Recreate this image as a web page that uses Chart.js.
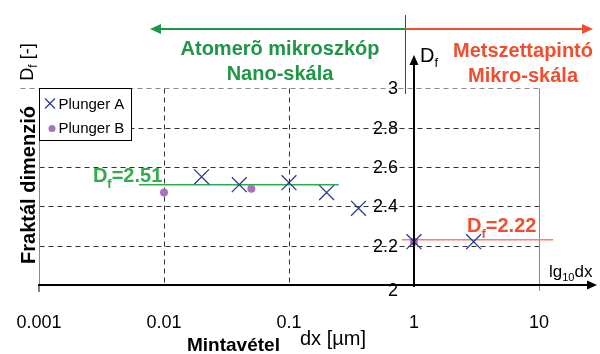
<!DOCTYPE html>
<html>
<head>
<meta charset="utf-8">
<script src="https://cdn.jsdelivr.net/npm/chart.js@4.4.1/dist/chart.umd.min.js"></script>
<style>
  html, body { margin: 0; padding: 0; background: #fff; }
  #wrap { width: 600px; height: 354px; position: relative; }
</style>
</head>
<body>
<div id="wrap"><canvas id="chart"></canvas></div>
<script>
const seriesNames = ["Plunger A", "Plunger B"];
const plungerA_dx = [0.02, 0.04, 0.1, 0.2, 0.36, 1, 3];
const plungerA_df = [2.55, 2.51, 2.52, 2.47, 2.39, 2.22, 2.22];
const plungerB_dx = [0.01, 0.05, 1];
const plungerB_df = [2.47, 2.49, 2.22];
const nanoFit_dx = [0.0063, 0.25];
const nanoFit_df = [2.51, 2.51];
const microFit_dx = [0.8, 13];
const microFit_df = [2.23, 2.23];
const xTicks = [0.001, 0.01, 0.1, 1, 10];
const xTickLabels = ["0.001", "0.01", "0.1", "1", "10"];
const yTicks = [2, 2.2, 2.4, 2.6, 2.8, 3];
const yTickLabels = ["2", "2.2", "2.4", "2.6", "2.8", "3"];

const FONT = '"Liberation Sans", Arial, sans-serif';
const GREEN = "#1E9646", LGREEN = "#30AD4B", RED = "#F04E2E", LRED = "#F3836F";
const NAVY = "#2B3990", PURPLE = "#A774BA";

const pts = (xs, ys) => xs.map((v, i) => ({ x: v, y: ys[i] }));

function drawParts(ctx, parts, x, y, align) {
  let w = 0;
  parts.forEach(p => { ctx.font = p.f; w += ctx.measureText(p.t).width; });
  let cx = align === "center" ? x - w / 2 : align === "right" ? x - w : x;
  ctx.textAlign = "left";
  parts.forEach(p => {
    ctx.font = p.f;
    ctx.fillText(p.t, cx, y + (p.dy || 0));
    cx += ctx.measureText(p.t).width;
  });
}

function arrow(ctx, x1, y1, x2, y2, color, lw, len, half) {
  const a = Math.atan2(y2 - y1, x2 - x1);
  ctx.strokeStyle = color; ctx.fillStyle = color; ctx.lineWidth = lw;
  ctx.beginPath();
  ctx.moveTo(x1, y1);
  ctx.lineTo(x2 - Math.cos(a) * len * 0.8, y2 - Math.sin(a) * len * 0.8);
  ctx.stroke();
  ctx.beginPath();
  ctx.moveTo(x2, y2);
  ctx.lineTo(x2 - Math.cos(a) * len - Math.sin(a) * half, y2 - Math.sin(a) * len + Math.cos(a) * half);
  ctx.lineTo(x2 - Math.cos(a) * len + Math.sin(a) * half, y2 - Math.sin(a) * len - Math.cos(a) * half);
  ctx.closePath();
  ctx.fill();
}

const deco = {
  id: "deco",
  beforeDatasetsDraw(chart) {
    const { ctx, scales: { x, y } } = chart;
    const L = Math.round(x.getPixelForValue(xTicks[0])) + 0.5;
    const R = Math.round(x.getPixelForValue(10)) + 0.5;
    const T = Math.round(y.getPixelForValue(3)) + 0.5;
    const B = y.getPixelForValue(2);
    ctx.save();
    ctx.lineWidth = 1;
    ctx.setLineDash([5, 4]);
    yTicks.forEach(v => {
      if (v === 2) return;
      const py = Math.round(y.getPixelForValue(v)) + 0.5;
      ctx.strokeStyle = v === 3 ? "#8a8a8a" : "#333";
      ctx.beginPath();
      ctx.moveTo(v === 3 ? L - 19 : L, py);
      ctx.lineTo(R, py);
      ctx.stroke();
    });
    xTicks.filter(v => v > 0.001 && v < 1).forEach(v => {
      const px = Math.round(x.getPixelForValue(v)) + 0.5;
      ctx.strokeStyle = "#333";
      ctx.beginPath();
      ctx.moveTo(px, T);
      ctx.lineTo(px, B);
      ctx.stroke();
    });
    ctx.setLineDash([]);
    ctx.strokeStyle = "#8a8a8a";
    ctx.beginPath();
    ctx.moveTo(L, T); ctx.lineTo(L, B);
    ctx.moveTo(R, T); ctx.lineTo(R, B + 6);
    ctx.stroke();
    ctx.restore();
  },
  afterDatasetsDraw(chart) {
    const { ctx, scales: { x, y } } = chart;
    const L = x.getPixelForValue(xTicks[0]);
    const T = y.getPixelForValue(3);
    const B = y.getPixelForValue(2);
    const ax = x.getPixelForValue(1);
    ctx.save();
    ctx.setLineDash([]);

    // axes
    arrow(ctx, L - 1, B, 597, B, "#000", 2, 10, 4.5);
    arrow(ctx, ax, B + 2, ax, 55, "#000", 2, 10, 4.5);
    ctx.strokeStyle = "#000"; ctx.lineWidth = 1;
    ctx.beginPath(); ctx.moveTo(L, B); ctx.lineTo(L, B + 7); ctx.stroke();

    // scale arrows on top
    ctx.strokeStyle = "#444"; ctx.lineWidth = 1;
    ctx.beginPath(); ctx.moveTo(ax - 8.5, 15); ctx.lineTo(ax - 8.5, 94); ctx.stroke();
    arrow(ctx, ax - 9, 29, 150, 29, GREEN, 2, 11, 5);
    arrow(ctx, ax - 9, 29, 593, 29, RED, 2, 11, 5);

    ctx.textBaseline = "alphabetic";
    ctx.fillStyle = GREEN;
    ctx.font = "bold 20px " + FONT;
    ctx.textAlign = "center";
    ctx.fillText("Atomerõ mikroszkóp", 280, 55);
    ctx.fillText("Nano-skála", 280, 80);
    ctx.fillStyle = RED;
    ctx.fillText("Metszettapintó", 523, 57);
    ctx.fillText("Mikro-skála", 523, 82);

    // y tick labels
    ctx.fillStyle = "#000";
    ctx.font = "18px " + FONT;
    ctx.textAlign = "right";
    ctx.textBaseline = "middle";
    yTicks.forEach((v, i) => {
      ctx.fillText(yTickLabels[i], ax - 16, y.getPixelForValue(v) + (v === 2 ? 6 : 1));
    });
    // x tick labels
    ctx.textAlign = "center";
    ctx.textBaseline = "alphabetic";
    xTicks.forEach((v, i) => ctx.fillText(xTickLabels[i], x.getPixelForValue(v), 328));

    // axis labels
    drawParts(ctx, [{ t: "D", f: "20px " + FONT }, { t: "f", f: "13px " + FONT, dy: 5 }], ax + 6, 62, "left");
    drawParts(ctx, [{ t: "lg", f: "17px " + FONT }, { t: "10", f: "11px " + FONT, dy: 4 }, { t: "dx", f: "17px " + FONT }], 549, 277, "left");
    ctx.font = "bold 19px " + FONT;
    ctx.textAlign = "left";
    ctx.fillText("Mintavétel", 187, 351);
    ctx.font = "20px " + FONT;
    ctx.fillText("dx [µm]", 300, 345);

    ctx.save();
    ctx.translate(35, 185);
    ctx.rotate(-Math.PI / 2);
    ctx.font = "bold 20px " + FONT;
    ctx.textAlign = "center";
    ctx.fillText("Fraktál dimenzió", 0, 0);
    ctx.restore();
    ctx.save();
    ctx.translate(33, 62);
    ctx.rotate(-Math.PI / 2);
    drawParts(ctx, [{ t: "D", f: "18px " + FONT }, { t: "f", f: "12px " + FONT, dy: 4 }, { t: " [-]", f: "18px " + FONT }], 0, 0, "center");
    ctx.restore();

    // fit labels
    ctx.fillStyle = LGREEN;
    drawParts(ctx, [{ t: "D", f: "bold 20px " + FONT }, { t: "f", f: "bold 13px " + FONT, dy: 6 }, { t: "=2.51", f: "bold 20px " + FONT }],
      x.getPixelForValue(nanoFit_dx[0]) - 46, y.getPixelForValue(nanoFit_df[0]) - 3, "left");
    ctx.fillStyle = RED;
    drawParts(ctx, [{ t: "D", f: "bold 20px " + FONT }, { t: "f", f: "bold 13px " + FONT, dy: 6 }, { t: "=2.22", f: "bold 20px " + FONT }],
      467, y.getPixelForValue(microFit_df[0]) - 8, "left");

    // legend
    const lx = Math.round(L) + 0.5, ly = Math.round(T) + 0.5;
    ctx.fillStyle = "#fff";
    ctx.fillRect(lx, ly, 92, 52);
    ctx.strokeStyle = "#000"; ctx.lineWidth = 1;
    ctx.strokeRect(lx, ly, 92, 52);
    ctx.strokeStyle = NAVY; ctx.lineWidth = 1.2;
    const mx = lx + 10.5, my = ly + 15;
    ctx.beginPath();
    ctx.moveTo(mx - 5, my - 5); ctx.lineTo(mx + 5, my + 5);
    ctx.moveTo(mx + 5, my - 5); ctx.lineTo(mx - 5, my + 5);
    ctx.stroke();
    ctx.fillStyle = PURPLE;
    ctx.beginPath(); ctx.arc(lx + 12.5, ly + 40, 3.5, 0, Math.PI * 2); ctx.fill();
    ctx.fillStyle = "#000";
    ctx.font = "15px " + FONT;
    ctx.textAlign = "left";
    ctx.textBaseline = "middle";
    ctx.fillText(seriesNames[0], lx + 19, my + 1);
    ctx.fillText(seriesNames[1], lx + 19, ly + 40);
    ctx.restore();
  }
};

new Chart(document.getElementById("chart"), {
  type: "scatter",
  data: {
    datasets: [
      {
        label: seriesNames[0],
        data: pts(plungerA_dx, plungerA_df),
        pointStyle: "crossRot",
        pointRadius: 10.5,
        borderColor: NAVY,
        borderWidth: 1.3,
      },
      {
        label: seriesNames[1],
        data: pts(plungerB_dx, plungerB_df),
        pointStyle: "circle",
        pointRadius: 4,
        backgroundColor: PURPLE,
        borderWidth: 0,
      },
      {
        label: "nano",
        data: pts(nanoFit_dx, nanoFit_df),
        showLine: true,
        pointRadius: 0,
        borderColor: LGREEN,
        borderWidth: 1.5,
      },
      {
        label: "micro",
        data: pts(microFit_dx, microFit_df),
        showLine: true,
        pointRadius: 0,
        borderColor: LRED,
        borderWidth: 1.5,
      },
    ],
  },
  options: {
    responsive: true,
    maintainAspectRatio: false,
    animation: false,
    layout: { autoPadding: false, padding: { left: 39, right: 4, top: 49, bottom: 69 } },
    scales: {
      x: { type: "logarithmic", min: 0.001, max: 28.6, display: false },
      y: { type: "linear", min: 2, max: 3.2, display: false },
    },
    plugins: {
      legend: { display: false },
      tooltip: { enabled: false },
    },
  },
  plugins: [deco],
});
</script>
</body>
</html>
